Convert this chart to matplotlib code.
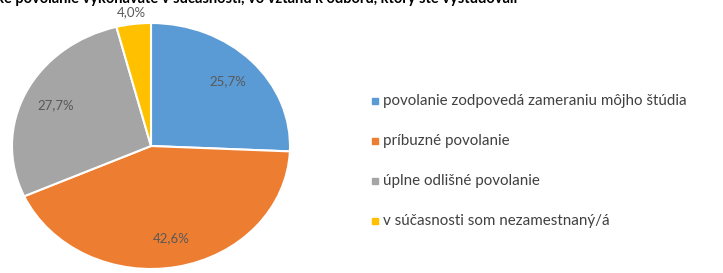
import numpy as np
import matplotlib
matplotlib.use("Agg")
import matplotlib.pyplot as plt

labels = ["povolanie zodpovedá zameraniu môjho štúdia",
          "príbuzné povolanie",
          "úplne odlišné povolanie",
          "v súčasnosti som nezamestnaný/á"]
values = [25.7, 42.6, 27.7, 4.0]
colors = ["#5B9BD5", "#ED7D31", "#A5A5A5", "#FFC000"]
title = "Aké povolanie vykonávate v súčasnosti, vo vzťahu k odboru, ktorý ste vyštudovali"

plt.rcParams['font.family'] = ['Lato', 'DejaVu Sans']

W, H = 723, 273
fig = plt.figure(figsize=(W / 100, H / 100), dpi=100)

# pie is a little stretched sideways in the original
cx, cy, rx, ry = 151, 146, 139, 123
ax = fig.add_axes([(cx - rx) / W, (H - cy - ry) / H, 2 * rx / W, 2 * ry / H])

wedges, texts, autotexts = ax.pie(
    values, colors=colors, startangle=90, counterclock=False,
    autopct=lambda p: f"{p:.1f}%".replace(".", ","), pctdistance=0.76,
    wedgeprops=dict(edgecolor="white", linewidth=1.5),
    textprops=dict(color="#595959", fontsize=9.5))
ax.set_aspect("auto")
ax.set_xlim(-1, 1)
ax.set_ylim(-1, 1)

# small slice label sits outside
w = wedges[3]
ang = np.deg2rad((w.theta1 + w.theta2) / 2)
autotexts[3].set_position((1.13 * np.cos(ang), 1.1 * np.sin(ang)))

# legend
for i, (lab, col) in enumerate(zip(labels, colors)):
    y = 1 - (101 + 40 * i) / H
    fig.patches.append(plt.Rectangle((372 / W, y - 3 / H), 6 / W, 6 / H,
                                     transform=fig.transFigure, color=col))
    fig.text(383 / W, y, lab, fontsize=10.9, color="#404040", va="center")

fig.text(517 / W, 1 + 1 / H, title, fontsize=10.5, fontweight="bold",
         color="black", ha="right", va="center")

fig.savefig("out.png", dpi=100)
